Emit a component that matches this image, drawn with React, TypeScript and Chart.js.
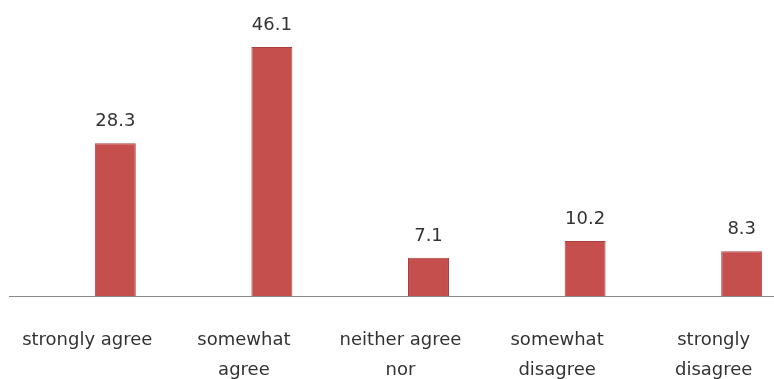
import React, { useEffect, useRef } from "react";
import { Chart, registerables } from "chart.js";

Chart.register(...registerables);

const categories: string[][] = [
  ["strongly agree"],
  ["somewhat", "agree"],
  ["neither agree", "nor", "disagree"],
  ["somewhat", "disagree"],
  ["strongly", "disagree"],
];
const values: number[] = [28.3, 46.1, 7.1, 10.2, 8.3];
// Empty first series (the Excel source had a blank series that shifts bars right)
const blankSeries: (number | null)[] = [null, null, null, null, null];

const FONT = "'DejaVu Sans', sans-serif";
const TEXT = "#333333";

const valueLabels = {
  id: "valueLabels",
  afterDatasetsDraw(chart: any) {
    const meta = chart.getDatasetMeta(1);
    const ctx = chart.ctx;
    ctx.save();
    ctx.font = `18px ${FONT}`;
    ctx.fillStyle = TEXT;
    ctx.textAlign = "center";
    ctx.textBaseline = "alphabetic";
    meta.data.forEach((bar: any, i: number) => {
      ctx.fillText(values[i].toFixed(1), bar.x, bar.y - 17);
    });
    ctx.restore();
  },
};

export default function App() {
  const ref = useRef<HTMLCanvasElement | null>(null);
  useEffect(() => {
    if (!ref.current) return;
    const chart = new Chart(ref.current, {
      type: "bar",
      data: {
        labels: categories,
        datasets: [
          { data: blankSeries, backgroundColor: "#4F81BD" },
          {
            data: values,
            backgroundColor: "#C44F4C",
            borderColor: "#A9403E",
            borderWidth: 1,
          },
        ],
      },
      options: {
        animation: false,
        responsive: false,
        maintainAspectRatio: false,
        categoryPercentage: 0.715,
        barPercentage: 0.732,
        layout: { padding: { left: 9, right: 8, top: 26, bottom: 0 } },
        plugins: {
          legend: { display: false },
          tooltip: { enabled: false },
          title: { display: false },
        },
        scales: {
          x: {
            grid: { display: true, drawOnChartArea: false, drawTicks: false },
            border: { display: true, color: "#8A8A8A", width: 1 },
            ticks: {
              color: TEXT,
              font: { family: FONT, size: 18, lineHeight: "30px" },
              padding: 29,
              maxRotation: 0,
              minRotation: 0,
              autoSkip: false,
            },
            afterFit(scale: any) {
              scale.height = 83;
              scale.paddingLeft = 0;
              scale.paddingRight = 0;
            },
          },
          y: {
            display: false,
            min: 0,
            max: 50,
          },
        },
      } as any,
      plugins: [valueLabels],
    });
    return () => chart.destroy();
  }, []);
  return (
    <div
      style={{
        position: "fixed",
        left: 0,
        top: 0,
        width: 774,
        height: 379,
        overflow: "hidden",
        background: "#ffffff",
      }}
    >
      <canvas ref={ref} width={800} height={379} style={{ width: 800, height: 379, display: "block" }} />
    </div>
  );
}
